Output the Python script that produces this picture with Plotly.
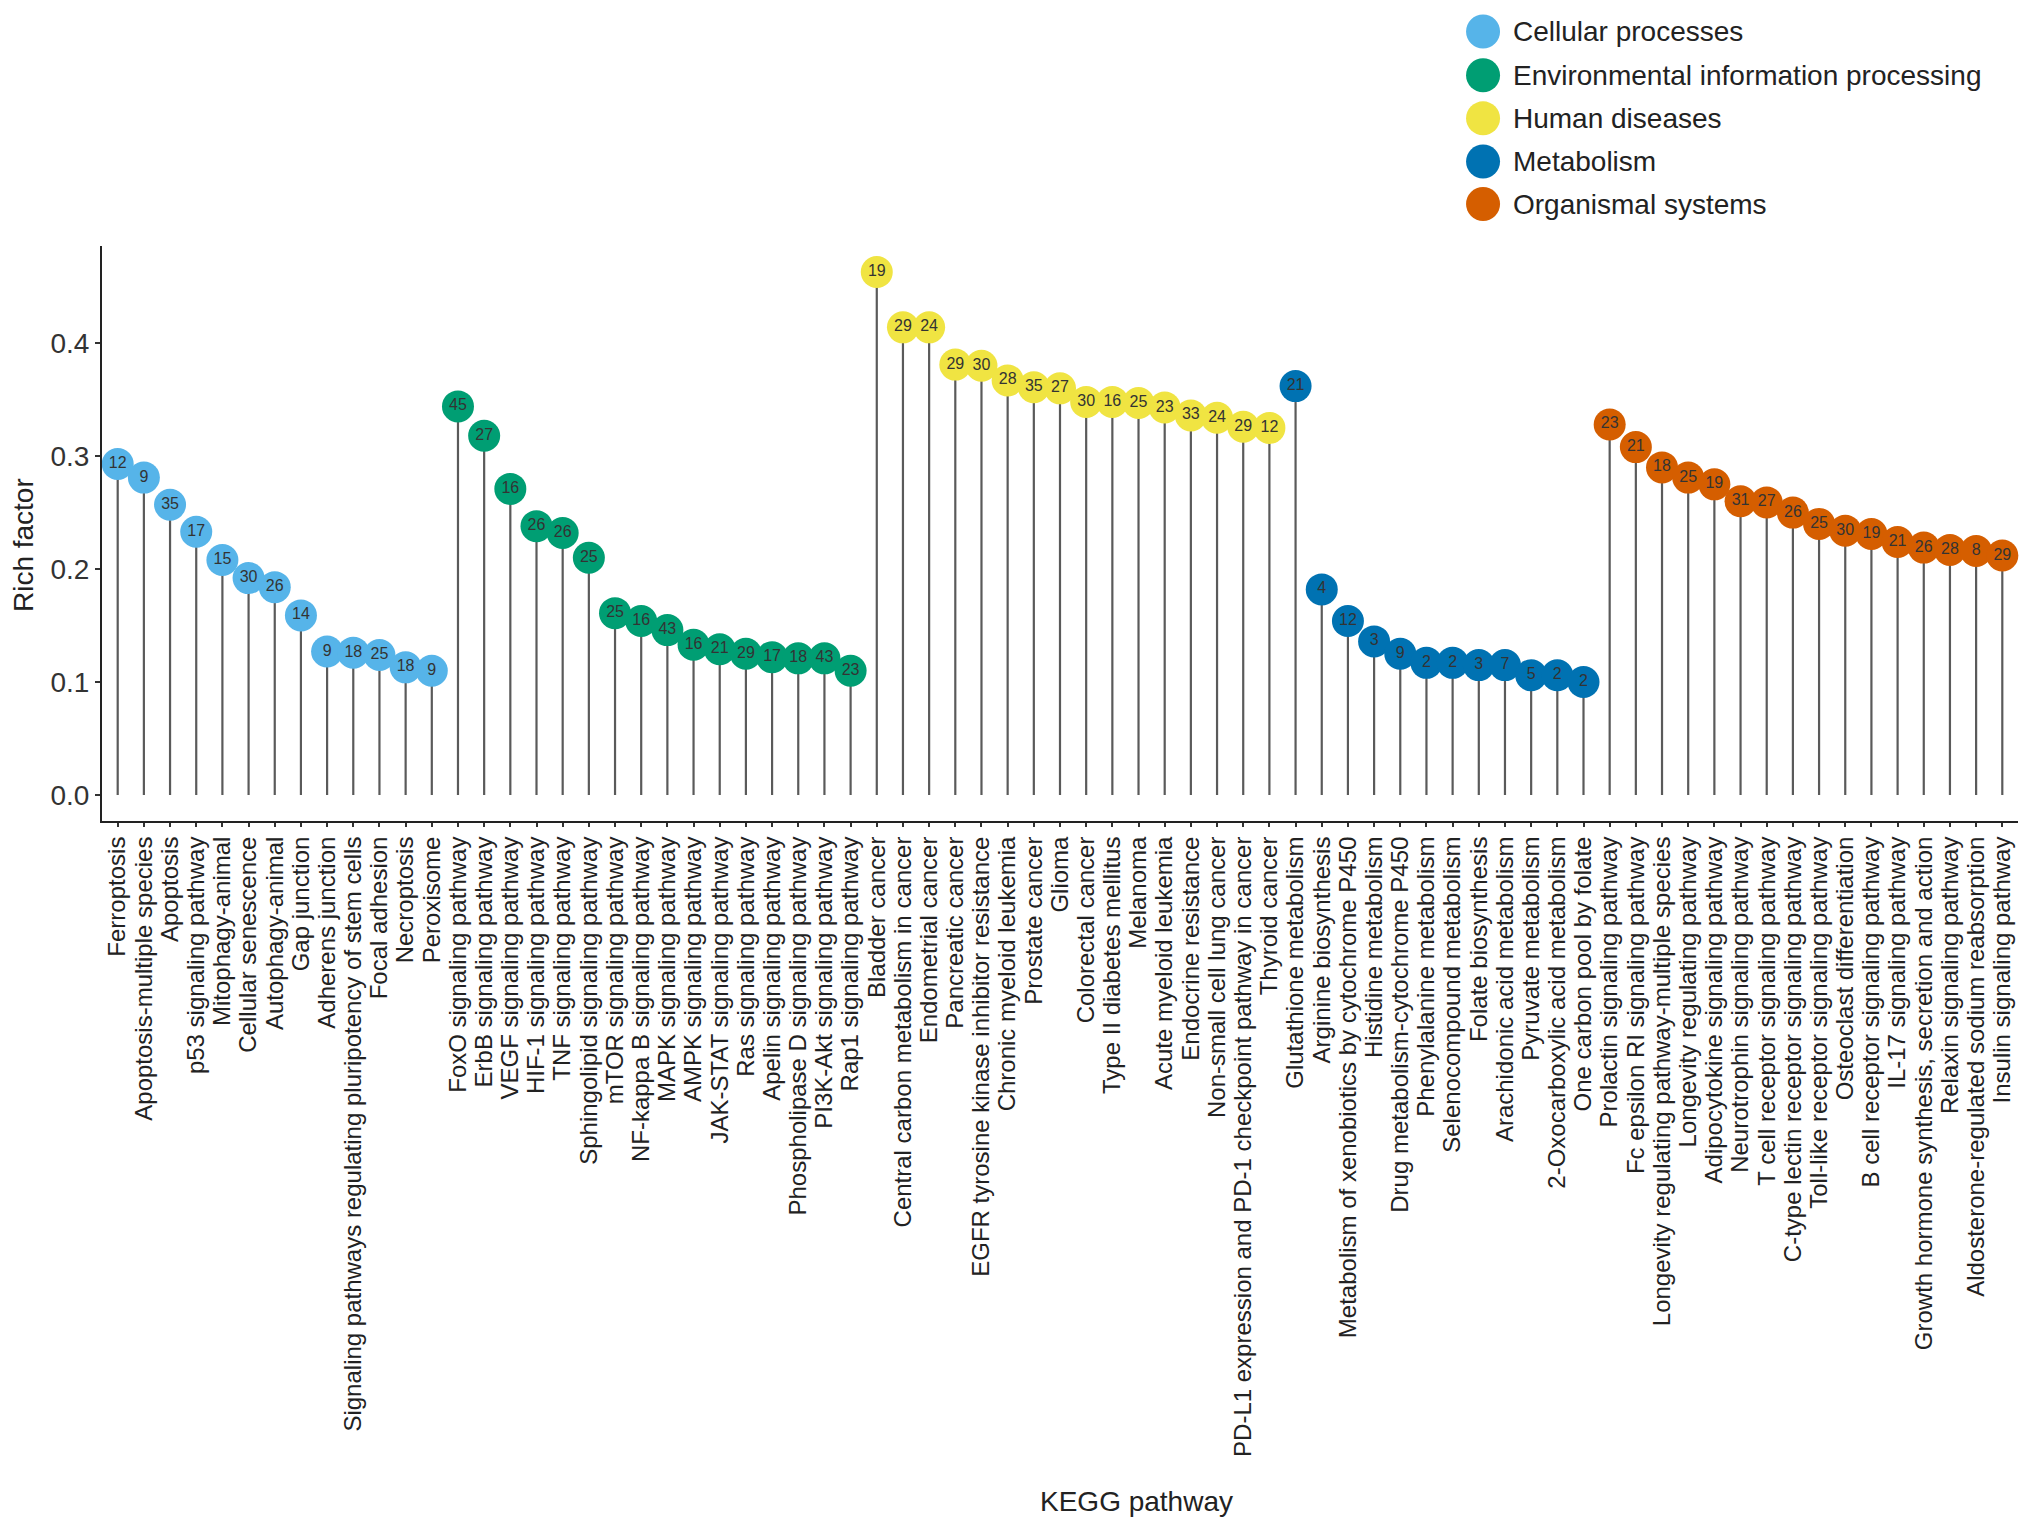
import plotly.graph_objects as go

# KEGG pathways per class, rich factor and gene count
cellular_names = [
    "Ferroptosis", "Apoptosis-multiple species", "Apoptosis", "p53 signaling pathway",
    "Mitophagy-animal", "Cellular senescence", "Autophagy-animal", "Gap junction",
    "Adherens junction", "Signaling pathways regulating pluripotency of stem cells",
    "Focal adhesion", "Necroptosis", "Peroxisome",
]
cellular_rich = [0.293, 0.281, 0.257, 0.233, 0.208, 0.192, 0.184, 0.159, 0.127, 0.126, 0.124, 0.113, 0.110]
cellular_count = [12, 9, 35, 17, 15, 30, 26, 14, 9, 18, 25, 18, 9]

env_names = [
    "FoxO signaling pathway", "ErbB signaling pathway", "VEGF signaling pathway",
    "HIF-1 signaling pathway", "TNF signaling pathway", "Sphingolipid signaling pathway",
    "mTOR signaling pathway", "NF-kappa B signaling pathway", "MAPK signaling pathway",
    "AMPK signaling pathway", "JAK-STAT signaling pathway", "Ras signaling pathway",
    "Apelin signaling pathway", "Phospholipase D signaling pathway",
    "PI3K-Akt signaling pathway", "Rap1 signaling pathway",
]
env_rich = [0.344, 0.318, 0.271, 0.238, 0.232, 0.210, 0.161, 0.154, 0.146, 0.133, 0.129, 0.125, 0.122, 0.121, 0.121, 0.110]
env_count = [45, 27, 16, 26, 26, 25, 25, 16, 43, 16, 21, 29, 17, 18, 43, 23]

disease_names = [
    "Bladder cancer", "Central carbon metabolism in cancer", "Endometrial cancer",
    "Pancreatic cancer", "EGFR tyrosine kinase inhibitor resistance",
    "Chronic myeloid leukemia", "Prostate cancer", "Glioma", "Colorectal cancer",
    "Type II diabetes mellitus", "Melanoma", "Acute myeloid leukemia",
    "Endocrine resistance", "Non-small cell lung cancer",
    "PD-L1 expression and PD-1 checkpoint pathway in cancer", "Thyroid cancer",
]
disease_rich = [0.463, 0.414, 0.414, 0.381, 0.380, 0.367, 0.361, 0.360, 0.348, 0.348, 0.347, 0.343, 0.336, 0.334, 0.326, 0.325]
disease_count = [19, 29, 24, 29, 30, 28, 35, 27, 30, 16, 25, 23, 33, 24, 29, 12]

metab_names = [
    "Glutathione metabolism", "Arginine biosynthesis",
    "Metabolism of xenobiotics by cytochrome P450", "Histidine metabolism",
    "Drug metabolism-cytochrome P450", "Phenylalanine metabolism",
    "Selenocompound metabolism", "Folate biosynthesis", "Arachidonic acid metabolism",
    "Pyruvate metabolism", "2-Oxocarboxylic acid metabolism", "One carbon pool by folate",
]
metab_rich = [0.362, 0.182, 0.154, 0.136, 0.125, 0.117, 0.117, 0.115, 0.115, 0.106, 0.106, 0.100]
metab_count = [21, 4, 12, 3, 9, 2, 2, 3, 7, 5, 2, 2]

org_names = [
    "Prolactin signaling pathway", "Fc epsilon RI signaling pathway",
    "Longevity regulating pathway-multiple species", "Longevity regulating pathway",
    "Adipocytokine signaling pathway", "Neurotrophin signaling pathway",
    "T cell receptor signaling pathway", "C-type lectin receptor signaling pathway",
    "Toll-like receptor signaling pathway", "Osteoclast differentiation",
    "B cell receptor signaling pathway", "IL-17 signaling pathway",
    "Growth hormone synthesis, secretion and action", "Relaxin signaling pathway",
    "Aldosterone-regulated sodium reabsorption", "Insulin signaling pathway",
]
org_rich = [0.328, 0.308, 0.290, 0.281, 0.275, 0.260, 0.259, 0.250, 0.240, 0.234, 0.231, 0.224, 0.219, 0.217, 0.216, 0.212]
org_count = [23, 21, 18, 25, 19, 31, 27, 26, 25, 30, 19, 21, 26, 28, 8, 29]

groups = [
    ("Cellular processes", "#56B4E9", cellular_names, cellular_rich, cellular_count),
    ("Environmental information processing", "#009E73", env_names, env_rich, env_count),
    ("Human diseases", "#F0E442", disease_names, disease_rich, disease_count),
    ("Metabolism", "#0072B2", metab_names, metab_rich, metab_count),
    ("Organismal systems", "#D55E00", org_names, org_rich, org_count),
]

FONT = "Liberation Sans, Arial, Helvetica, sans-serif"
all_names = [n for g in groups for n in g[2]]

fig = go.Figure()
for name, color, cats, rich, count in groups:
    fig.add_trace(go.Scatter(
        x=cats,
        y=rich,
        mode="markers+text",
        name=name,
        text=[str(c) for c in count],
        textposition="middle center",
        textfont=dict(size=16, color="#333333", family=FONT),
        marker=dict(size=32, color=color, line=dict(width=0)),
        error_y=dict(type="data", symmetric=False, array=[0] * len(rich),
                     arrayminus=rich, color="#5a5a5a", thickness=2.2, width=0),
        showlegend=False,
        cliponaxis=False,
    ))

# legend drawn by hand so the circles can be as large as in the original
legend_y = [1.373, 1.297, 1.222, 1.147, 1.073]
for (name, color, *_), ly in zip(groups, legend_y):
    fig.add_shape(type="circle", xref="paper", yref="paper",
                  xsizemode="pixel", ysizemode="pixel",
                  xanchor=0.7208, yanchor=ly, x0=-17, x1=17, y0=-17, y1=17,
                  fillcolor=color, line=dict(width=0))
    fig.add_annotation(text=name, xref="paper", yref="paper", x=0.7354, y=ly,
                       xanchor="left", yanchor="middle", showarrow=False,
                       font=dict(size=28, color="#222222", family=FONT))

# axis titles as annotations, placed where the original has them
fig.add_annotation(text="KEGG pathway", xref="paper", yref="paper", x=0.540, y=-1.184,
                   xanchor="center", yanchor="middle", showarrow=False,
                   font=dict(size=28, color="#222222", family=FONT))
fig.add_annotation(text="Rich factor", xref="paper", yref="paper", x=-0.0412, y=0.48,
                   textangle=-90, xanchor="center", yanchor="middle", showarrow=False,
                   font=dict(size=28, color="#222222", family=FONT))

fig.update_xaxes(
    type="category",
    range=[-0.6, 72.6],
    tickmode="array", tickvals=all_names, ticktext=all_names,
    tickangle=-90,
    tickfont=dict(size=24, color="#222222", family=FONT),
    ticks="outside", ticklen=4, tickwidth=1.5, tickcolor="#333333",
    showline=True, linecolor="#222222", linewidth=2,
    showgrid=False, zeroline=False,
)
fig.update_yaxes(
    range=[-0.023, 0.486],
    tickvals=[0, 0.1, 0.2, 0.3, 0.4],
    tickformat=".1f",
    tickfont=dict(size=28, color="#333333", family=FONT),
    ticks="outside", ticklen=5, tickwidth=1.5, tickcolor="#333333",
    showline=True, linecolor="#222222", linewidth=2,
    showgrid=False, zeroline=False,
)
# page body adds an 8 px margin, so the figure is 8 px smaller than the window
fig.update_layout(
    width=2023, height=1522,
    plot_bgcolor="white", paper_bgcolor="white",
    margin=dict(l=94, r=13, t=238, b=709),
    font=dict(family=FONT),
)

fig.write_html("out.html")
